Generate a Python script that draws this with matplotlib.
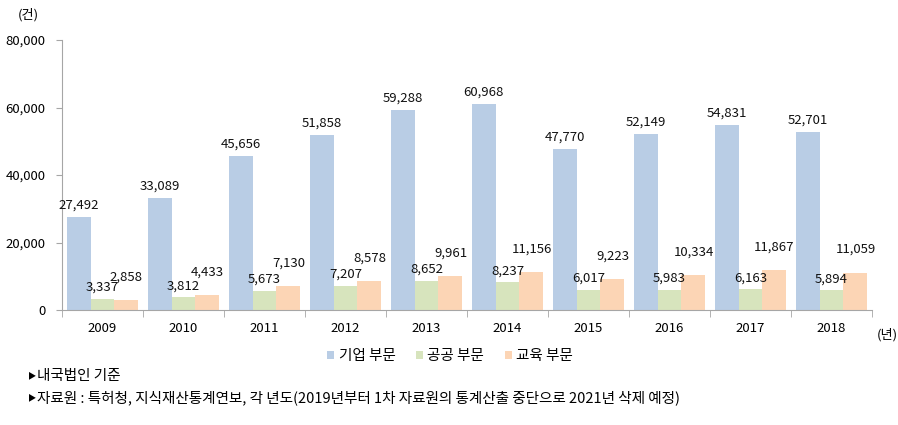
import numpy as np
import matplotlib

matplotlib.use("Agg")
import matplotlib.pyplot as plt

plt.rcParams["font.family"] = ["Noto Sans CJK KR", "DejaVu Sans"]

years = ["2009", "2010", "2011", "2012", "2013", "2014", "2015", "2016", "2017", "2018"]
corporate = [27492, 33089, 45656, 51858, 59288, 60968, 47770, 52149, 54831, 52701]
public = [3337, 3812, 5673, 7207, 8652, 8237, 6017, 5983, 6163, 5894]
education = [2858, 4433, 7130, 8578, 9961, 11156, 9223, 10334, 11867, 11059]
series_names = ["기업 부문", "공공 부문", "교육 부문"]
colors = ["#B9CDE5", "#D7E4BD", "#FCD5B5"]

fig = plt.figure(figsize=(8.98, 4.25), dpi=100)
ax = fig.add_axes([62 / 898, 1 - 310 / 425, 810 / 898, 270 / 425])

x = np.arange(len(years))
width = 0.296
# orange labels sit higher so they clear the green ones
label_offsets = [4, 3.5, 12]
for i, (values, name, color) in enumerate(zip([corporate, public, education], series_names, colors)):
    pos = x + (i - 1) * width
    ax.bar(pos, values, width=width, color=color, label=name, linewidth=0)
    for xp, v in zip(pos, values):
        ax.annotate(f"{v:,}", (xp, v), xytext=(0, label_offsets[i]), textcoords="offset points",
                    ha="center", va="bottom", fontsize=9.5, color="#111111")

ax.set_xlim(-0.5, len(years) - 0.5)
ax.set_ylim(0, 80000)
ax.set_yticks(np.arange(0, 80001, 20000))
ax.set_yticklabels([f"{v:,}" for v in range(0, 80001, 20000)], fontsize=9.5)
ax.set_xticks(x)
ax.set_xticklabels(years, fontsize=9.5)
ax.set_xticks(np.arange(-0.5, len(years)), minor=True)
ax.tick_params(axis="x", which="major", length=0, pad=9)
ax.tick_params(axis="x", which="minor", length=5, color="#A6A6A6")
ax.tick_params(axis="y", length=4, color="#A6A6A6", pad=8)

for side in ["top", "right"]:
    ax.spines[side].set_visible(False)
for side in ["left", "bottom"]:
    ax.spines[side].set_color("#A6A6A6")

fig.text(28 / 898, 1 - 15 / 425, "(건)", fontsize=9.5, ha="center", va="center")
fig.text(877 / 898, 1 - 335 / 425, "(년)", fontsize=9.5, ha="left", va="center")

handles, labels = ax.get_legend_handles_labels()
fig.legend(handles, labels, loc="center", bbox_to_anchor=(450 / 898, 1 - 356 / 425), ncol=3,
           frameon=False, fontsize=10.5, handlelength=0.5, handleheight=0.5, handletextpad=0.3,
           columnspacing=1.4)

fig.text(28 / 898, 1 - 376 / 425, "▶", fontsize=6, ha="left", va="center")
fig.text(37 / 898, 1 - 376 / 425, "내국법인 기준", fontsize=10.5, ha="left", va="center")
fig.text(28 / 898, 1 - 398 / 425, "▶", fontsize=6, ha="left", va="center")
fig.text(37 / 898, 1 - 398 / 425,
         "자료원 : 특허청, 지식재산통계연보, 각 년도(2019년부터 1차 자료원의 통계산출 중단으로 2021년 삭제 예정)",
         fontsize=10.5, ha="left", va="center")

fig.savefig("out.png", dpi=100)
